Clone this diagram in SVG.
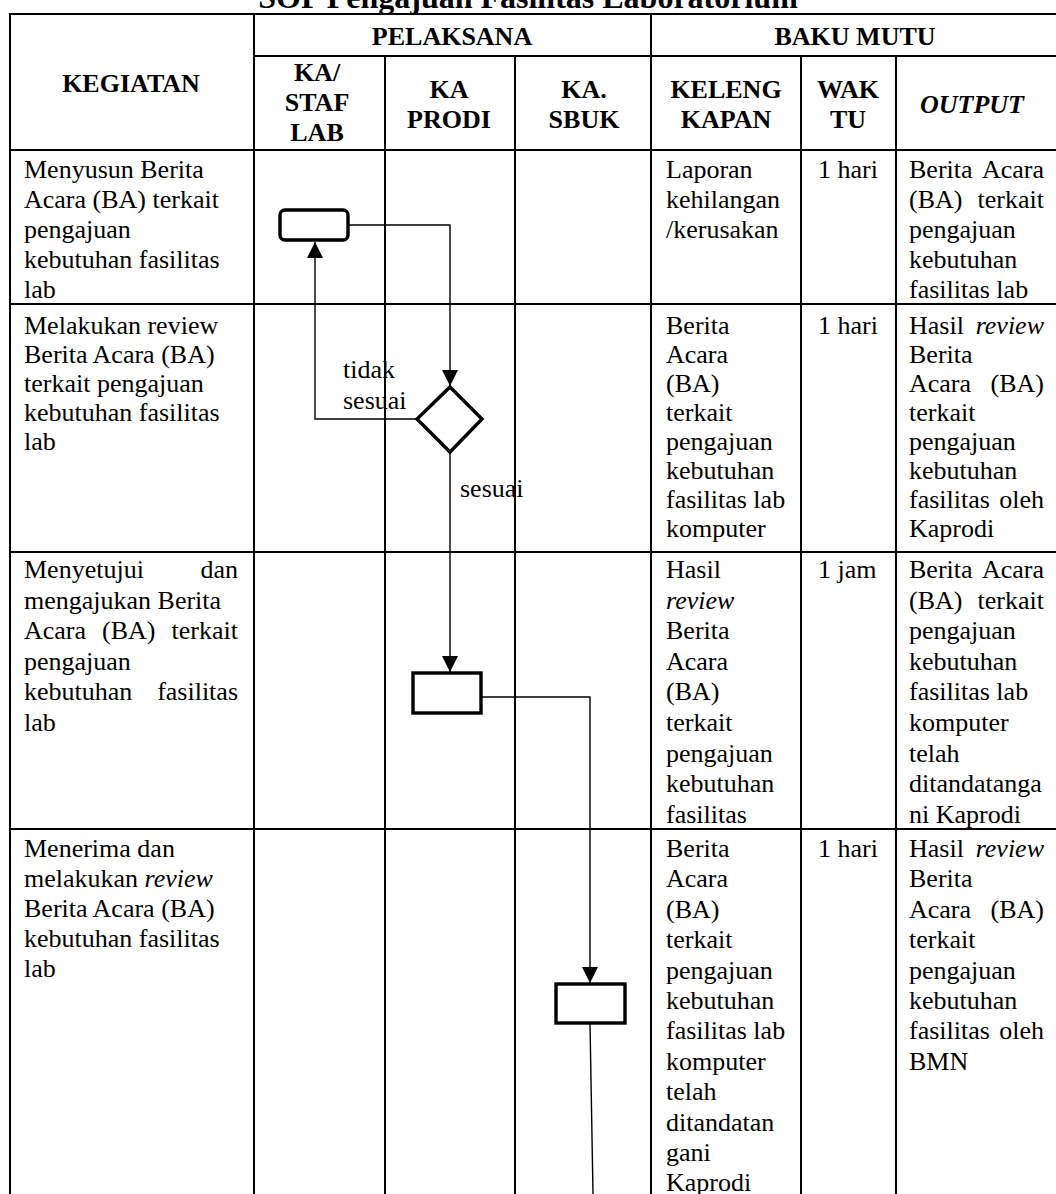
<svg xmlns="http://www.w3.org/2000/svg" width="1056" height="1194" viewBox="0 0 1056 1194">
<style>
text{font-family:"Liberation Serif","Times New Roman",serif;font-size:26px;fill:#000}
.b{font-weight:bold}
.i{font-style:italic}
.m{text-anchor:middle}
.r{text-anchor:end}
.g line{stroke:#000;stroke-width:2}
.c{stroke:#000;stroke-width:1.4;fill:none}
.s{fill:#fff;stroke:#000;stroke-width:3.4}
</style>
<defs>
<marker id="ah" markerUnits="userSpaceOnUse" markerWidth="16" markerHeight="16" refX="16" refY="8" orient="auto">
<path d="M0,0 L16,8 L0,16 z" fill="#000"/>
</marker>
</defs>
<rect width="1056" height="1194" fill="#fff"/>
<text class="b m" x="528" y="8" style="font-size:32px">SOP Pengajuan Fasilitas Laboratorium</text>
<g id="grid" class="g">
<line x1="10" y1="14" x2="1056" y2="14"/>
<line x1="254" y1="56" x2="1056" y2="56"/>
<line x1="10" y1="150" x2="1056" y2="150"/>
<line x1="10" y1="304" x2="1056" y2="304"/>
<line x1="10" y1="552" x2="1056" y2="552"/>
<line x1="10" y1="829" x2="1056" y2="829"/>
<line x1="10" y1="13" x2="10" y2="1194"/>
<line x1="254" y1="13" x2="254" y2="1194"/>
<line x1="651" y1="13" x2="651" y2="1194"/>
<line x1="385" y1="56" x2="385" y2="1194"/>
<line x1="515" y1="56" x2="515" y2="1194"/>
<line x1="801" y1="56" x2="801" y2="1194"/>
<line x1="896" y1="56" x2="896" y2="1194"/>
</g>
<g id="header">
<text class="b m" x="131" y="92">KEGIATAN</text>
<text class="b m" x="452" y="45">PELAKSANA</text>
<text class="b m" x="855" y="45">BAKU MUTU</text>
<text class="b m" x="317" y="81">KA/</text>
<text class="b m" x="317" y="111">STAF</text>
<text class="b m" x="317" y="141">LAB</text>
<text class="b m" x="449" y="98">KA</text>
<text class="b m" x="449" y="128">PRODI</text>
<text class="b m" x="584" y="98">KA.</text>
<text class="b m" x="584" y="128">SBUK</text>
<text class="b m" x="726" y="98">KELENG</text>
<text class="b m" x="726" y="128">KAPAN</text>
<text class="b m" x="848" y="98">WAK</text>
<text class="b m" x="848" y="128">TU</text>
<text class="b i m" x="972" y="113">OUTPUT</text>
</g>
<g id="row1">
<text x="24" y="178">Menyusun Berita</text>
<text x="24" y="208">Acara (BA) terkait</text>
<text x="24" y="238">pengajuan</text>
<text x="24" y="268">kebutuhan fasilitas</text>
<text x="24" y="298">lab</text>
<text x="666" y="178">Laporan</text>
<text x="666" y="208">kehilangan</text>
<text x="666" y="238">/kerusakan</text>
<text x="818" y="178">1 hari</text>
<text x="909" y="178">Berita</text><text class="r" x="1044" y="178">Acara</text>
<text x="909" y="208">(BA)</text><text class="r" x="1044" y="208">terkait</text>
<text x="909" y="238">pengajuan</text>
<text x="909" y="268">kebutuhan</text>
<text x="909" y="298">fasilitas lab</text>
</g>
<g id="row2">
<text x="24" y="334">Melakukan review</text>
<text x="24" y="363">Berita Acara (BA)</text>
<text x="24" y="392">terkait pengajuan</text>
<text x="24" y="421">kebutuhan fasilitas</text>
<text x="24" y="450">lab</text>
<text x="666" y="334">Berita</text>
<text x="666" y="363">Acara</text>
<text x="666" y="392">(BA)</text>
<text x="666" y="421">terkait</text>
<text x="666" y="450">pengajuan</text>
<text x="666" y="479">kebutuhan</text>
<text x="666" y="508">fasilitas lab</text>
<text x="666" y="537">komputer</text>
<text x="818" y="334">1 hari</text>
<text x="909" y="334">Hasil</text><text class="r i" x="1044" y="334">review</text>
<text x="909" y="363">Berita</text>
<text x="909" y="392">Acara</text><text class="r" x="1044" y="392">(BA)</text>
<text x="909" y="421">terkait</text>
<text x="909" y="450">pengajuan</text>
<text x="909" y="479">kebutuhan</text>
<text x="909" y="508">fasilitas</text><text class="r" x="1044" y="508">oleh</text>
<text x="909" y="537">Kaprodi</text>
</g>
<g id="row3">
<text x="24" y="578">Menyetujui</text><text class="r" x="238" y="578">dan</text>
<text x="24" y="609">mengajukan Berita</text>
<text x="24" y="639">Acara</text><text x="102" y="639">(BA)</text><text class="r" x="238" y="639">terkait</text>
<text x="24" y="670">pengajuan</text>
<text x="24" y="700">kebutuhan</text><text class="r" x="238" y="700">fasilitas</text>
<text x="24" y="731">lab</text>
<text x="666" y="578">Hasil</text>
<text class="i" x="666" y="609">review</text>
<text x="666" y="639">Berita</text>
<text x="666" y="670">Acara</text>
<text x="666" y="700">(BA)</text>
<text x="666" y="731">terkait</text>
<text x="666" y="762">pengajuan</text>
<text x="666" y="792">kebutuhan</text>
<text x="666" y="823">fasilitas</text>
<text x="818" y="578">1 jam</text>
<text x="909" y="578">Berita</text><text class="r" x="1044" y="578">Acara</text>
<text x="909" y="609">(BA)</text><text class="r" x="1044" y="609">terkait</text>
<text x="909" y="639">pengajuan</text>
<text x="909" y="670">kebutuhan</text>
<text x="909" y="700">fasilitas lab</text>
<text x="909" y="731">komputer</text>
<text x="909" y="762">telah</text>
<text x="909" y="792">ditandatanga</text>
<text x="909" y="823">ni Kaprodi</text>
</g>
<g id="row4">
<text x="24" y="857">Menerima dan</text>
<text x="24" y="887">melakukan <tspan class="i">review</tspan></text>
<text x="24" y="917">Berita Acara (BA)</text>
<text x="24" y="947">kebutuhan fasilitas</text>
<text x="24" y="977">lab</text>
<text x="666" y="857">Berita</text>
<text x="666" y="887">Acara</text>
<text x="666" y="918">(BA)</text>
<text x="666" y="948">terkait</text>
<text x="666" y="979">pengajuan</text>
<text x="666" y="1009">kebutuhan</text>
<text x="666" y="1039">fasilitas lab</text>
<text x="666" y="1070">komputer</text>
<text x="666" y="1100">telah</text>
<text x="666" y="1131">ditandatan</text>
<text x="666" y="1161">gani</text>
<text x="666" y="1191">Kaprodi</text>
<text x="818" y="857">1 hari</text>
<text x="909" y="857">Hasil</text><text class="r i" x="1044" y="857">review</text>
<text x="909" y="887">Berita</text>
<text x="909" y="918">Acara</text><text class="r" x="1044" y="918">(BA)</text>
<text x="909" y="948">terkait</text>
<text x="909" y="979">pengajuan</text>
<text x="909" y="1009">kebutuhan</text>
<text x="909" y="1039">fasilitas</text><text class="r" x="1044" y="1039">oleh</text>
<text x="909" y="1070">BMN</text>
</g>
<g id="connectors">
<path class="c" d="M348,225 H450 V386" marker-end="url(#ah)"/>
<path class="c" d="M417,419 H315 V242" marker-end="url(#ah)"/>
<path class="c" d="M450,452 V672" marker-end="url(#ah)"/>
<path class="c" d="M481,697 H590 V983" marker-end="url(#ah)"/>
<path class="c" d="M590,1023 L593,1194"/>
<text x="343" y="378">tidak</text>
<text x="343" y="409">sesuai</text>
<text x="460" y="497">sesuai</text>
</g>
<g id="node-menyusun">
<rect class="s" x="280" y="210" width="68" height="30" rx="5"/>
</g>
<g id="node-review">
<path class="s" d="M450,387 L482,419 L450,452 L417,419 Z"/>
</g>
<g id="node-menyetujui">
<rect class="s" x="413" y="673" width="68" height="40"/>
</g>
<g id="node-menerima">
<rect class="s" x="556" y="984" width="69" height="39"/>
</g>
</svg>
